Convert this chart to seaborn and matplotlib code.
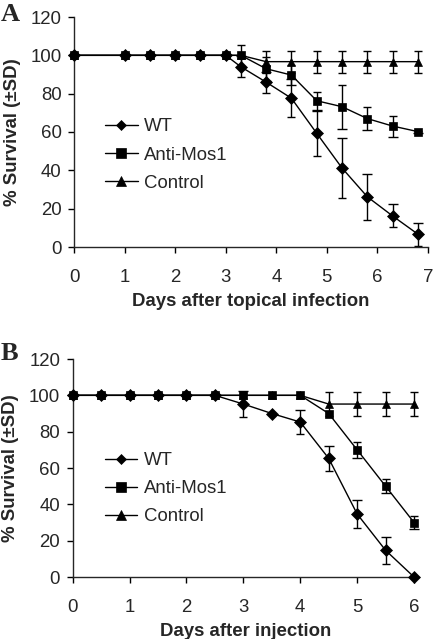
import numpy as np
import pandas as pd
import matplotlib
matplotlib.use("Agg")
import matplotlib.pyplot as plt
import seaborn as sns

# ---------------- data ----------------
groups = ["WT", "Anti-Mos1", "Control"]

days_A = [0, 1, 1.5, 2, 2.5, 3, 3.3, 3.8, 4.3, 4.8, 5.3, 5.8, 6.3, 6.8]
wt_A = [100, 100, 100, 100, 100, 100, 94, 86, 77.6, 59.3, 41.2, 26.2, 16.2, 6.7]
wt_A_sd = [0, 0, 0, 0, 0, 0, 5.5, 5.5, 10, 11.7, 15.5, 12, 6, 6]
anti_A = [100, 100, 100, 100, 100, 100, 100, 93, 89.7, 76.3, 73.2, 67, 63.1, 60.2]
anti_A_sd = [0, 0, 0, 0, 0, 0, 0, 6.3, 5, 4.7, 11.5, 6, 5.5, 0.5]
ctrl_A = [100, 100, 100, 100, 100, 100, 100, 96.7, 96.7, 96.7, 96.7, 96.7, 96.7, 96.7]
ctrl_A_sd = [0, 0, 0, 0, 0, 0, 5.5, 5.7, 5.7, 5.7, 5.7, 5.7, 5.7, 5.7]

days_B = [0, 0.5, 1, 1.5, 2, 2.5, 3, 3.5, 4, 4.5, 5, 5.5, 6]
wt_B = [100, 100, 100, 100, 100, 100, 95.2, 90, 85.3, 65.3, 34.7, 14.7, 0]
wt_B_sd = [0, 0, 0, 0, 0, 0, 7, 0, 6.8, 7, 7.5, 7.3, 0]
anti_B = [100, 100, 100, 100, 100, 100, 100, 100, 100, 90, 70, 50, 30]
anti_B_sd = [0, 0, 0, 0, 0, 0, 0, 0, 0, 0, 4.5, 4, 3.5]
ctrl_B = [100, 100, 100, 100, 100, 100, 100, 100, 100, 95.2, 95.2, 95.2, 95.2]
ctrl_B_sd = [0, 0, 0, 0, 0, 0, 0, 0, 0, 6.5, 6.5, 6.5, 6.5]

y_ticks = [0, 20, 40, 60, 80, 100, 120]
x_ticks_A = [0, 1, 2, 3, 4, 5, 6, 7]
x_ticks_B = [0, 1, 2, 3, 4, 5, 6]
xlabel_A = "Days after topical infection"
xlabel_B = "Days after injection"
ylabel = "% Survival (\u00b1SD)"


def make_df(days, series, sds):
    rows = []
    for g, vals, sd in zip(groups, series, sds):
        for d, v, s in zip(days, vals, sd):
            rows.append({"day": d, "survival": v, "sd": s, "group": g})
    return pd.DataFrame(rows)


df_A = make_df(days_A, [wt_A, anti_A, ctrl_A], [wt_A_sd, anti_A_sd, ctrl_A_sd])
df_B = make_df(days_B, [wt_B, anti_B, ctrl_B], [wt_B_sd, anti_B_sd, ctrl_B_sd])

# ---------------- style ----------------
sns.set_style("ticks")
plt.rcParams["font.family"] = ["Liberation Sans", "DejaVu Sans"]
plt.rcParams["axes.linewidth"] = 1.0

W, H = 433, 639
fig = plt.figure(figsize=(W / 100, H / 100), dpi=100)

FS = 13.4
markers = {"WT": "D", "Anti-Mos1": "s", "Control": "^"}
msize = {"WT": 5.3, "Anti-Mos1": 7.0, "Control": 7.0}
palette = {g: "black" for g in groups}


def panel(rect, df, xlim, xticks, xlabel, legend_anchor):
    ax = fig.add_axes(rect)
    # error bars
    for g in groups:
        sub = df[(df["group"] == g) & (df["sd"] > 0)]
        ax.errorbar(sub["day"], sub["survival"], yerr=sub["sd"], fmt="none",
                    ecolor="black", elinewidth=1.0, capsize=3.2, capthick=1.0,
                    zorder=2, clip_on=False)
    sns.lineplot(data=df, x="day", y="survival", hue="group", style="group",
                 hue_order=groups, style_order=groups, palette=palette,
                 markers=markers, dashes=False, errorbar=None, ax=ax,
                 linewidth=1.0, markeredgecolor="black", markeredgewidth=0.5,
                 sort=False, zorder=3)
    for line in ax.lines:
        line.set_clip_on(False)
    handles, labels = ax.get_legend_handles_labels()
    for h, l in zip(handles, labels):
        if l in msize:
            h.set_markersize(msize[l])
    for line, g in zip(ax.lines[:3], groups):
        line.set_markersize(msize[g])
    ax.set_xlim(*xlim)
    ax.set_ylim(0, 120)
    ax.set_xticks(xticks)
    ax.set_yticks(y_ticks)
    ax.tick_params(axis="both", labelsize=FS, direction="out", length=4,
                   width=1.0, color="black")
    ax.tick_params(axis="y", pad=5)
    ax.tick_params(axis="x", pad=12)
    ax.set_xlabel(xlabel, fontsize=FS, fontweight="bold", labelpad=5)
    ax.set_ylabel(ylabel, fontsize=FS, fontweight="bold", labelpad=7)
    sns.despine(ax=ax)
    ax.legend(handles, labels, loc="center left",
              bbox_to_anchor=legend_anchor, frameon=False,
              fontsize=FS, handlelength=1.75, handletextpad=0.35,
              labelspacing=0.6, borderpad=0, borderaxespad=0)
    return ax


axA = panel([74 / W, 1 - 247 / H, 354 / W, 230 / H], df_A, (0, 7), x_ticks_A,
            xlabel_A, (0.088, 0.40))
axB = panel([72.7 / W, 1 - 577 / H, 345.3 / W, 218 / H], df_B, (0, 6.07),
            x_ticks_B, xlabel_B, (0.093, 0.405))

fig.text(1 / W, 1 - 21 / H, "A", fontsize=19, fontweight="bold",
         family=["Liberation Serif", "DejaVu Serif"], va="baseline")
fig.text(1 / W, 1 - 360 / H, "B", fontsize=19, fontweight="bold",
         family=["Liberation Serif", "DejaVu Serif"], va="baseline")

fig.savefig("out.png", dpi=100)
